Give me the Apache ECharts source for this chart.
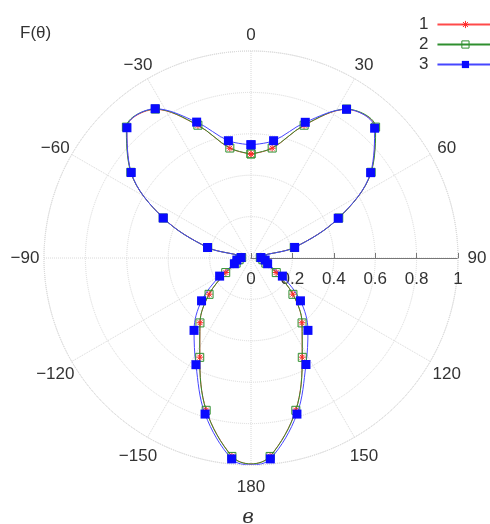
<!DOCTYPE html>
<html>
<head>
<meta charset="utf-8">
<script src="https://cdn.jsdelivr.net/npm/echarts@6/dist/echarts.min.js"></script>
<style>
html,body{margin:0;padding:0;background:#fff;}
#chart{width:490px;height:524px;}
</style>
</head>
<body>
<div id="chart"></div>
<script>
// Angle of each sample (degrees, 0 at top, clockwise positive)
const thetaDeg = [0, 10.9, 21.8, 32.7, 43.6, 54.5, 65.5, 76.4, 87.3, 98.2, 109.1, 120, 130.9, 141.8, 152.7, 163.6, 174.5, 180,
  -174.5, -163.6, -152.7, -141.8, -130.9, -120, -109.1, -98.2, -87.3, -76.4, -65.5, -54.5, -43.6, -32.7, -21.8, -10.9, 0];
// Series values F(theta)
const series1 = [0.502, 0.540, 0.690, 0.853, 0.870, 0.712, 0.465, 0.214, 0.045, 0.058, 0.075, 0.140, 0.267, 0.398, 0.539, 0.766, 0.962, 0.995,
  0.962, 0.766, 0.539, 0.398, 0.267, 0.140, 0.075, 0.058, 0.045, 0.214, 0.465, 0.712, 0.870, 0.853, 0.690, 0.540, 0.502];
const series2 = [0.503, 0.541, 0.691, 0.855, 0.873, 0.713, 0.466, 0.215, 0.045, 0.058, 0.076, 0.141, 0.268, 0.399, 0.540, 0.767, 0.963, 0.995,
  0.963, 0.767, 0.540, 0.399, 0.268, 0.141, 0.076, 0.058, 0.045, 0.215, 0.466, 0.713, 0.873, 0.855, 0.691, 0.541, 0.503];
const series3 = [0.547, 0.577, 0.706, 0.854, 0.866, 0.710, 0.463, 0.217, 0.048, 0.069, 0.085, 0.175, 0.316, 0.445, 0.579, 0.786, 0.975, 1.0,
  0.975, 0.786, 0.580, 0.445, 0.316, 0.175, 0.085, 0.069, 0.048, 0.216, 0.466, 0.711, 0.869, 0.857, 0.707, 0.577, 0.547];
const seriesNames = ['1', '2', '3'];
const radiusTicks = [0, 0.2, 0.4, 0.6, 0.8, 1];
const angleTicks = [0, 30, 60, 90, 120, 150, 180, -150, -120, -90, -60, -30];

function toAxis(t) { return t >= 90 ? t : t + 360; }
function build(vals) {
  return vals.map((r, i) => {
    const item = { value: [r, toAxis(thetaDeg[i])] };
    if (thetaDeg[i] === 180) item.symbol = 'none';
    return item;
  });
}
function angleText(t) { return t < 0 ? '\u2212' + Math.abs(t) : String(t); }

// layout constants
const CX = 251, CY = 258, R = 207;
const LABEL_MARGIN = -30;       // anchor inside the circle, text pushed out by padding
const LABEL_CENTER_R = 226;     // labels are centred on this radius
const FS = 17;
const font = 'Liberation Sans, Arial, sans-serif';

// Build a rich style per angle label so each label is centred on LABEL_CENTER_R
const ctx = document.createElement('canvas').getContext('2d');
ctx.font = FS + 'px ' + font;
const rich = {};
angleTicks.forEach(function (t, i) {
  const v = toAxis(t);
  const phi = (v - 90) * Math.PI / 180;
  const c = Math.cos(phi), s = Math.sin(phi);
  const r0 = R + LABEL_MARGIN;
  const ax = r0 * c, ay = r0 * s, tx = LABEL_CENTER_R * c, ty = LABEL_CENTER_R * s + 3;
  const w = ctx.measureText(angleText(t)).width, h = FS;
  let pl = 0, pr = 0, pt = 0, pb = 0;
  if (Math.abs(ax) / R < 0.3) { const d = tx - ax; if (d > 0) pl = 2 * d; else pr = -2 * d; }
  else if (c > 0) pl = tx - w / 2 - ax;
  else pr = ax - (tx + w / 2);
  if (Math.abs(ay) / R < 0.3) { pt = 0; pb = 0; }
  else if (s > 0) pt = 2 * (ty - h / 2 - ay);
  else pb = 2 * (ay - (ty + h / 2));
  rich['a' + i] = { fontSize: FS, fontFamily: font, color: '#333', lineHeight: FS,
    padding: [Math.max(pt, 0), Math.max(pr, 0), Math.max(pb, 0), Math.max(pl, 0)] };
});

const chart = echarts.init(document.getElementById('chart'));
const asterisk = 'path://M0,5L10,5M1.5,1.5L8.5,8.5M1.5,8.5L8.5,1.5M5,0L5,10';
const redStyle = { color: 'rgba(0,0,0,0)', borderColor: '#ff2a2a', borderWidth: 1 };
const greenStyle = { color: 'rgba(0,0,0,0)', borderColor: '#2f8f2f', borderWidth: 1 };
const blueStyle = { color: '#0a0aff', borderWidth: 0 };

chart.setOption({
  backgroundColor: '#fff',
  animation: false,
  polar: { center: [CX, CY], radius: R },
  angleAxis: {
    type: 'value', min: 90, max: 450, interval: 30, startAngle: 0, clockwise: true,
    axisLine: { show: true, lineStyle: { color: '#d8d8d8', type: 'dotted', width: 1 } },
    axisTick: { show: false },
    splitLine: { show: true, lineStyle: { color: '#d8d8d8', type: 'dotted', width: 1 } },
    axisLabel: {
      margin: LABEL_MARGIN, color: '#333', fontSize: FS, fontFamily: font, rich: rich,
      formatter: function (v) {
        if (v === 450) return '';
        let d = v % 360; if (d > 180) d -= 360;
        const i = angleTicks.indexOf(d);
        return '{a' + i + '|' + angleText(d) + '}';
      }
    }
  },
  radiusAxis: {
    type: 'value', min: 0, max: 1, interval: 0.2,
    axisLine: { show: true, lineStyle: { color: '#777', width: 1 } },
    axisTick: { show: true, length: 5, lineStyle: { color: '#777' } },
    splitLine: { show: true, lineStyle: { color: '#d8d8d8', type: 'dotted', width: 1 } },
    axisLabel: { color: '#333', fontSize: FS, fontFamily: font, margin: -13, verticalAlign: 'top',
      formatter: function (v) { return String(radiusTicks.find(t => Math.abs(t - v) < 1e-9) ?? v); } }
  },
  legend: {
    orient: 'vertical', left: 414, top: 11, align: 'right',
    itemWidth: 56, itemHeight: 9, itemGap: 3,
    textStyle: { fontSize: FS, fontFamily: font, color: '#333', padding: [0, 4, 0, 0] },
    data: [
      { name: seriesNames[0], itemStyle: redStyle },
      { name: seriesNames[1], itemStyle: greenStyle },
      { name: seriesNames[2], itemStyle: blueStyle }
    ]
  },
  graphic: [
    { type: 'text', left: 20, top: 25, style: { text: 'F(\u03b8)', font: '17px Liberation Sans, Arial, sans-serif', fill: '#333' } },
    { type: 'text', x: 248, y: 518, style: { text: '\u0432', font: 'italic 20px DejaVu Serif, serif', fill: '#333', textAlign: 'center', textVerticalAlign: 'middle' } }
  ],
  series: [
    { name: seriesNames[0], type: 'line', coordinateSystem: 'polar', smooth: 0.35, data: build(series1),
      symbol: asterisk, symbolSize: 7,
      lineStyle: { color: '#ff4a4a', width: 1 },
      itemStyle: redStyle },
    { name: seriesNames[1], type: 'line', coordinateSystem: 'polar', smooth: 0.35, data: build(series2),
      symbol: 'rect', symbolSize: 8,
      lineStyle: { color: '#2f8f2f', width: 1 },
      itemStyle: greenStyle },
    { name: seriesNames[2], type: 'line', coordinateSystem: 'polar', smooth: 0.35, data: build(series3),
      symbol: 'rect', symbolSize: 9,
      lineStyle: { color: '#4646ff', width: 1 },
      itemStyle: blueStyle }
  ]
});
</script>
</body>
</html>
